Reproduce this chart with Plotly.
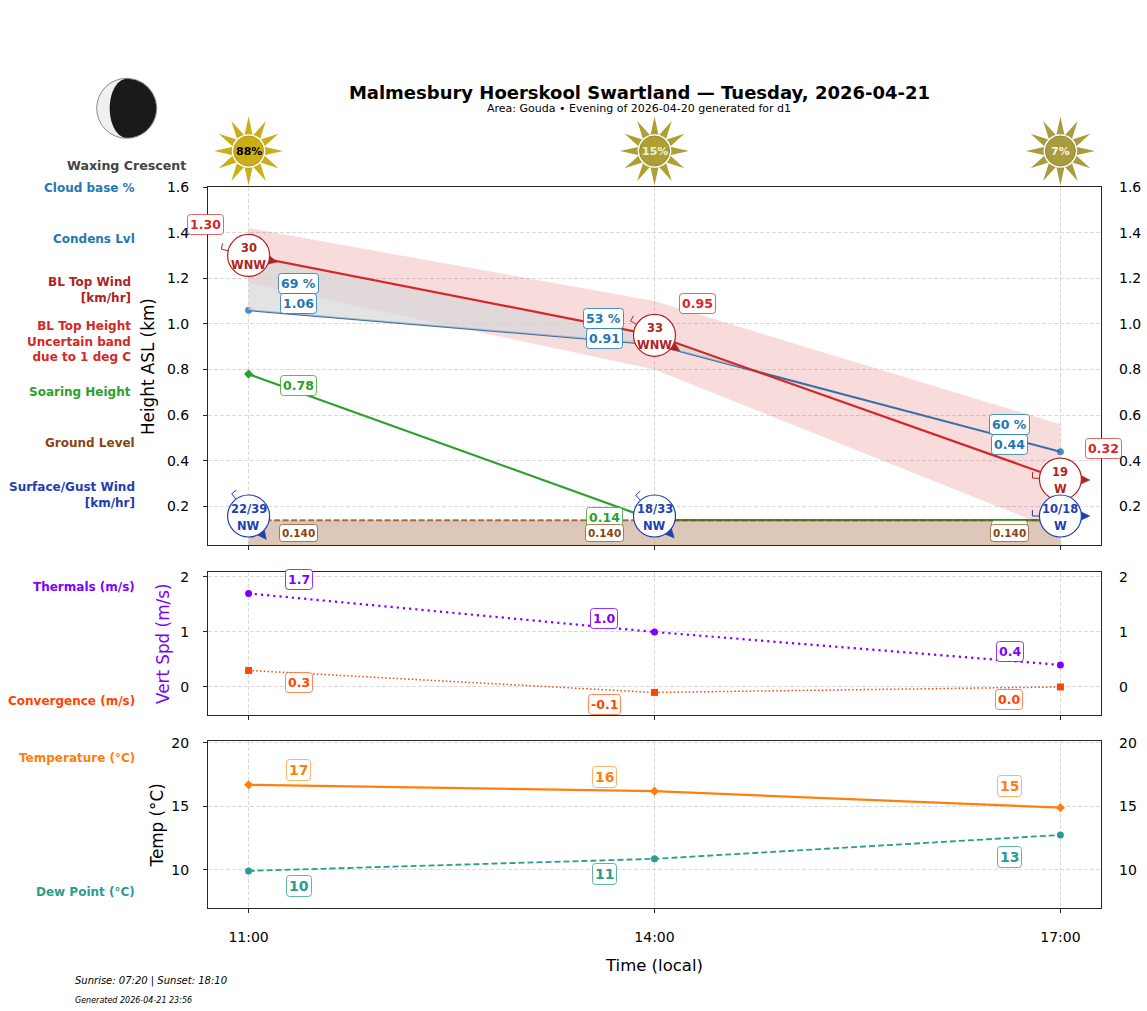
import numpy as np
import plotly.graph_objects as go
from plotly.subplots import make_subplots

W, H = 1147, 1011

# ==============================
# DATA
# ==============================
hours = [11, 14, 17]
hour_labels = ["11:00", "14:00", "17:00"]

bl_top = [1.30, 0.95, 0.32]
bl_upper = [1.42, 1.10, 0.56]
bl_lower = [1.18, 0.80, 0.09]
condens = [1.06, 0.91, 0.44]
cloud_pct = ["69 %", "53 %", "60 %"]
soaring = [0.78, 0.14, 0.14]
ground = [0.14, 0.14, 0.14]

bl_wind_speed = ["30", "33", "19"]
bl_wind_name = ["WNW", "WNW", "W"]
bl_wind_dir = [283, 301, 272]
sfc_wind_speed = ["22/39", "18/33", "10/18"]
sfc_wind_name = ["NW", "NW", "W"]
sfc_wind_dir = [323, 318, 270]
sfc_wind_y = [0.158, 0.158, 0.158]

thermals = [1.7, 1.0, 0.4]
convergence = [0.3, -0.1, 0.0]
temperature = [16.7, 16.2, 14.9]
dew_point = [9.92, 10.87, 12.75]

sun_pct = ["88%", "15%", "7%"]
sun_colors = ["#c9ae16", "#ad9f32", "#a89c3e"]
sun_edges = ["#b39a12", "#998c2b", "#958a36"]
sun_text = ["black", "#f2efdc", "#f6f4e6"]

BLUE = "#1f77b4"
RED = "#d62728"
DARK_RED = "#b22222"
GREEN = "#2ca02c"
BROWN = "#8b4513"
WIND_BLUE = "#1e40af"
PURPLE = "#7f00ff"
ORANGE_RED = "#ff4500"
ORANGE = "#ff7f0e"
TEAL = "#2a9d8f"
FONT = "DejaVu Sans"


def px_x(p):
    return p / W


def px_y(p):
    return 1 - p / H


def poly_path(xs, ys):
    pts = [f"{a:.2f},{b:.2f}" for a, b in zip(xs, ys)]
    return "M" + " L".join(pts) + " Z"


# ==============================
# AXES
# ==============================
fig = make_subplots(rows=3, cols=1, specs=[[{"secondary_y": True}]] * 3)

x_range = [10.7, 17.3]
panels = [
    ("xaxis", "yaxis", "yaxis2", 187, 545, [0.031, 1.6], [0.2, 0.4, 0.6, 0.8, 1.0, 1.2, 1.4, 1.6], "%.1f"),
    ("xaxis2", "yaxis3", "yaxis4", 572, 715, [-0.51, 2.09], [0, 1, 2], "%d"),
    ("xaxis3", "yaxis5", "yaxis6", 741, 908, [7.0, 20.15], [10, 15, 20], "%d"),
]
frame = dict(showline=True, linecolor="#262626", linewidth=1, mirror=True, zeroline=False, automargin=False,
             showgrid=True, gridcolor="#dadada", griddash="4px,2px", gridwidth=0.8)
for xname, yname, y2name, top, bottom, yr, yt, fmt in panels:
    dom = [px_y(bottom), px_y(top)]
    ticktext = [fmt % v for v in yt]
    fig.layout[xname].update(domain=[px_x(208), px_x(1101)], range=x_range, tickvals=hours,
                             ticktext=hour_labels, ticks="outside", ticklen=4, tickcolor="#262626",
                             showticklabels=xname == "xaxis3", ticklabelstandoff=12,
                             tickfont=dict(size=14, color="black"), **frame)
    fig.layout[yname].update(domain=dom, range=yr, tickvals=yt, ticktext=ticktext, ticks="outside",
                             ticklen=4, tickcolor="#262626", ticklabelstandoff=11,
                             tickfont=dict(size=14, color="black"), **frame)
    fig.layout[y2name].update(domain=dom, range=yr, tickvals=yt, ticktext=ticktext, ticks="",
                              ticklabelstandoff=17, showgrid=False, zeroline=False, showline=False,
                              automargin=False, tickfont=dict(size=14, color="black"))

# right hand axes need something plotted on them to show up
for row in [1, 2, 3]:
    fig.add_trace(go.Scatter(x=hours, y=[None, None, None], mode="lines", showlegend=False,
                             hoverinfo="skip"), row=row, col=1, secondary_y=True)


# ==============================
# TOP PANEL
# ==============================
h = np.array(hours, dtype=float)
top_arr = np.array(bl_top)
con_arr = np.array(condens)

# uncertainty band for BL top
fig.add_trace(go.Scatter(x=hours + hours[::-1], y=bl_upper + bl_lower[::-1], fill="toself", mode="none",
                         fillcolor="rgba(214,39,40,0.16)", showlegend=False), row=1, col=1)

# condens line goes under the grey fill
fig.add_trace(go.Scatter(x=hours, y=condens, mode="lines+markers", showlegend=False,
                         line=dict(color="#3a6fa5", width=2),
                         marker=dict(color="rgba(31,119,180,0.8)", size=7)), row=1, col=1)

# grey fill between BL top and condens level until they cross
d = top_arr - con_arr
t = d[1] / (d[1] - d[2])
hc = h[1] + t * (h[2] - h[1])
yc = con_arr[1] + t * (con_arr[2] - con_arr[1])
fig.add_trace(go.Scatter(x=list(h[:2]) + [hc] + list(h[:2][::-1]),
                         y=list(top_arr[:2]) + [yc] + list(con_arr[:2][::-1]),
                         fill="toself", mode="none", fillcolor="rgba(215,215,215,0.7)",
                         showlegend=False), row=1, col=1)

# ground fill
fig.add_trace(go.Scatter(x=hours, y=ground, fill="tozeroy", mode="none",
                         fillcolor="rgba(139,69,19,0.3)", showlegend=False), row=1, col=1)

fig.add_trace(go.Scatter(x=hours, y=bl_top, mode="lines", showlegend=False,
                         line=dict(color=RED, width=2.2)), row=1, col=1)
fig.add_trace(go.Scatter(x=hours, y=soaring, mode="lines+markers", showlegend=False,
                         line=dict(color=GREEN, width=2.2),
                         marker=dict(color=GREEN, symbol="diamond", size=7)), row=1, col=1)
fig.add_trace(go.Scatter(x=hours, y=ground, mode="lines", showlegend=False,
                         line=dict(color="rgba(139,69,19,0.75)", width=2, dash="6px,2.5px")), row=1, col=1)

# ==============================
# MIDDLE AND BOTTOM PANELS
# ==============================
fig.add_trace(go.Scatter(x=hours, y=thermals, mode="lines+markers", showlegend=False,
                         line=dict(color=PURPLE, width=2.2, dash="2.2px,4px"),
                         marker=dict(color=PURPLE, size=7)), row=2, col=1)
fig.add_trace(go.Scatter(x=hours, y=convergence, mode="lines+markers", showlegend=False,
                         line=dict(color=ORANGE_RED, width=1.5, dash="1.5px,2.3px"),
                         marker=dict(color=ORANGE_RED, symbol="square", size=7)), row=2, col=1)
fig.add_trace(go.Scatter(x=hours, y=temperature, mode="lines+markers", showlegend=False,
                         line=dict(color=ORANGE, width=2.2),
                         marker=dict(color=ORANGE, symbol="diamond", size=7)), row=3, col=1)
fig.add_trace(go.Scatter(x=hours, y=dew_point, mode="lines+markers", showlegend=False,
                         line=dict(color=TEAL, width=1.8, dash="6px,3px"),
                         marker=dict(color=TEAL, size=7)), row=3, col=1)


# ==============================
# WIND CIRCLES
# ==============================
def wind_marker(x, y, speed, name, direction, color):
    R = 21
    a = np.radians(direction)
    ux, uy = np.sin(a), np.cos(a)  # points upwind
    px_, py_ = -uy, ux  # perpendicular
    anchor = dict(xref="x", yref="y", xsizemode="pixel", ysizemode="pixel", xanchor=x, yanchor=y)
    # barb on the upwind side
    if py_ < 0:
        px_, py_ = -px_, -py_
    sx = [ux * R, ux * 28, ux * 28 + px_ * 6]
    sy = [uy * R, uy * 28, uy * 28 + py_ * 6]
    barb = "M" + " L".join(f"{a_:.2f},{b_:.2f}" for a_, b_ in zip(sx, sy))
    fig.add_shape(type="path", path=barb, line=dict(color=color, width=1), **anchor)
    # arrow head downwind
    tx = [-ux * 29.5, -ux * 19 + px_ * 5, -ux * 19 - px_ * 5]
    ty = [-uy * 29.5, -uy * 19 + py_ * 5, -uy * 19 - py_ * 5]
    fig.add_shape(type="path", path=poly_path(tx, ty), fillcolor=color, line=dict(color=color, width=0.5), **anchor)
    fig.add_shape(type="circle", x0=-R, x1=R, y0=-R, y1=R, fillcolor="white",
                  line=dict(color=color, width=1.2), **anchor)
    for txt, dy in [(speed, 7.5), (name, -10)]:
        fig.add_annotation(x=x, y=y, xref="x", yref="y", yshift=dy, yanchor="middle", text=f"<b>{txt}</b>",
                           showarrow=False, font=dict(size=11.5, color=color, family=FONT))


for i in range(3):
    wind_marker(hours[i], bl_top[i], bl_wind_speed[i], bl_wind_name[i], bl_wind_dir[i], DARK_RED)
    wind_marker(hours[i], sfc_wind_y[i], sfc_wind_speed[i], sfc_wind_name[i], sfc_wind_dir[i], WIND_BLUE)


# ==============================
# VALUE LABELS
# ==============================
def box(x, y, text, dx, dy, color, border, size=12.5, row=1):
    yref = {1: "y", 2: "y3", 3: "y5"}[row]
    xref = {1: "x", 2: "x2", 3: "x3"}[row]
    fig.add_annotation(x=x, y=y, xref=xref, yref=yref, xshift=dx, yshift=dy, text=f"<b>{text}</b>",
                       xanchor="center", yanchor="middle", showarrow=False, bgcolor="white",
                       bordercolor=border, borderwidth=1, borderpad=2,
                       font=dict(size=size, color=color, family=FONT))


RED_B = "rgba(214,39,40,0.7)"
BLUE_B = "rgba(31,119,180,0.8)"
GREEN_B = "rgba(44,160,44,0.75)"
BROWN_B = "rgba(139,69,19,0.7)"
PURPLE_B = "rgba(127,0,255,0.8)"
OR_B = "rgba(255,69,0,0.65)"
ORANGE_B = "rgba(255,127,14,0.6)"
TEAL_B = "rgba(42,157,143,0.75)"

for i, (dx, dy) in enumerate([(-43.5, 31), (42.5, 32), (43, 31)]):
    box(hours[i], bl_top[i], f"{bl_top[i]:.2f}", dx, dy, RED, RED_B)
for i, (dx, dy) in enumerate([(50, 27), (-51.5, 26), (-51, 27)]):
    box(hours[i], condens[i], cloud_pct[i], dx, dy, BLUE, BLUE_B)
for i, (dx, dy) in enumerate([(50, 7), (-50.5, 6), (-50.5, 7)]):
    box(hours[i], condens[i], f"{condens[i]:.2f}", dx, dy, BLUE, BLUE_B)
for i, (dx, dy) in enumerate([(50, -11.5), (-50.5, 3), (-51, -10)]):
    box(hours[i], soaring[i], f"{soaring[i]:.2f}", dx, dy, GREEN, GREEN_B)
for i, dx in enumerate([50, -50.5, -51]):
    box(hours[i], ground[i], f"{ground[i]:.3f}", dx, -13, BROWN, BROWN_B, size=10.5)

for i, (dx, dy) in enumerate([(50, 14), (-50.5, 13), (-50.5, 13.5)]):
    box(hours[i], thermals[i], f"{thermals[i]:.1f}", dx, dy, PURPLE, PURPLE_B, row=2)
for i, (dx, dy) in enumerate([(50, -12), (-50.5, -12), (-51, -13)]):
    box(hours[i], convergence[i], f"{convergence[i]:.1f}", dx, dy, ORANGE_RED, OR_B, row=2)
for i, (dx, dy) in enumerate([(50, 15), (-50.5, 14), (-51, 22)]):
    box(hours[i], temperature[i], f"{temperature[i]:.0f}", dx, dy, ORANGE, ORANGE_B, size=14, row=3)
for i, (dx, dy) in enumerate([(50, -15), (-50.5, -15), (-51, -22)]):
    box(hours[i], dew_point[i], f"{dew_point[i]:.0f}", dx, dy, TEAL, TEAL_B, size=14, row=3)


# ==============================
# SUN ICONS
# ==============================
angles = np.radians(np.arange(24) * 15)
radii = np.where(np.arange(24) % 2 == 0, 34.5, 16)
star = poly_path(np.sin(angles) * radii, np.cos(angles) * radii)
sun_y = px_y(151)
for i in range(3):
    anchor = dict(xref="x", yref="paper", xsizemode="pixel", ysizemode="pixel", xanchor=hours[i], yanchor=sun_y)
    fig.add_shape(type="path", path=star, fillcolor=sun_colors[i], line=dict(width=0), **anchor)
    fig.add_shape(type="circle", x0=-16.8, x1=16.8, y0=-16.8, y1=16.8, fillcolor="white",
                  line=dict(width=0), **anchor)
    fig.add_shape(type="circle", x0=-15, x1=15, y0=-15, y1=15, fillcolor=sun_colors[i],
                  line=dict(color=sun_edges[i], width=1), **anchor)
    fig.add_annotation(x=hours[i], y=sun_y, xref="x", yref="paper", yanchor="middle", text=f"<b>{sun_pct[i]}</b>",
                       showarrow=False, font=dict(size=11, color=sun_text[i], family=FONT))

# ==============================
# MOON
# ==============================
moon = dict(xref="paper", yref="paper", xsizemode="pixel", ysizemode="pixel",
            xanchor=px_x(126.7), yanchor=px_y(108.3))
fig.add_shape(type="circle", x0=-30, x1=30, y0=-30, y1=30, fillcolor="#f0f0f0",
              line=dict(color="#8a8a8a", width=1), **moon)
th = np.linspace(0, np.pi, 40)
mx = np.concatenate([np.sin(th) * 29.5, -np.sin(th[::-1]) * 17])
my = np.concatenate([np.cos(th) * 29.5, np.cos(th[::-1]) * 29.5])
fig.add_shape(type="path", path=poly_path(mx, my), fillcolor="#1a1a1a", line=dict(width=0), **moon)


# ==============================
# TEXT AROUND THE CHART
# ==============================
def side_label(text, right, y, color):
    fig.add_annotation(x=px_x(right + 2), y=px_y(y), xref="paper", yref="paper", xanchor="right", yanchor="middle",
                       align="right", text=f"<b>{text}</b>", showarrow=False,
                       font=dict(size=12, color=color, family=FONT))


side_label("Cloud base %", 135, 188, BLUE)
side_label("Condens Lvl", 135, 239, BLUE)
side_label("BL Top Wind<br>[km/hr]", 131, 290, DARK_RED)
side_label("BL Top Height<br>Uncertain band<br>due to 1 deg C", 131, 341, RED)
side_label("Soaring Height", 131, 392, GREEN)
side_label("Ground Level", 135, 443, BROWN)
side_label("Surface/Gust Wind<br>[km/hr]", 135, 494.5, WIND_BLUE)
side_label("Thermals (m/s)", 135, 587, PURPLE)
side_label("Convergence (m/s)", 135, 701, ORANGE_RED)
side_label("Temperature (°C)", 135, 758, ORANGE)
side_label("Dew Point (°C)", 135, 892, TEAL)


def free_text(text, x, y, size, color="black", angle=0, anchor="center", style="normal"):
    fig.add_annotation(x=px_x(x), y=px_y(y), xref="paper", yref="paper", xanchor=anchor, yanchor="middle",
                       text=text, textangle=angle, showarrow=False,
                       font=dict(size=size, color=color, family=FONT, style=style))


free_text("<b>Waxing Crescent</b>", 126.5, 166, 12.6, "#444444")
free_text("Area: Gouda • Evening of 2026-04-20 generated for d1", 639.5, 108.5, 11)
free_text("Height ASL (km)", 148, 367, 16.8, angle=-90)
free_text("Vert Spd (m/s)", 163, 644, 16.8, PURPLE, angle=-90)
free_text("Temp (°C)", 156, 825.5, 16.8, angle=-90)
free_text("Time (local)", 654, 965, 16.5)
free_text("Sunrise: 07:20 | Sunset: 18:10", 73, 981, 10, anchor="left", style="italic")
free_text("Generated 2026-04-21 23:56", 73, 1000, 8, anchor="left", style="italic")

fig.update_layout(
    width=W, height=H, margin=dict(l=0, r=0, t=0, b=0), showlegend=False,
    paper_bgcolor="white", plot_bgcolor="white", font=dict(family=FONT, color="black"),
    title=dict(text="<b>Malmesbury Hoerskool Swartland — Tuesday, 2026-04-21</b>", x=639.5 / W, xanchor="center",
               y=px_y(93), yanchor="middle", font=dict(size=18, family=FONT, color="black")),
)

# body margin off, rounded label boxes
fix = ("document.body.style.margin='0';"
       "var s=document.createElement('style');"
       "s.textContent='.annotation rect.bg{rx:3px;ry:3px}';"
       "document.head.appendChild(s);")
fig.write_html("out.html", post_script=fix, config={"displayModeBar": False})
